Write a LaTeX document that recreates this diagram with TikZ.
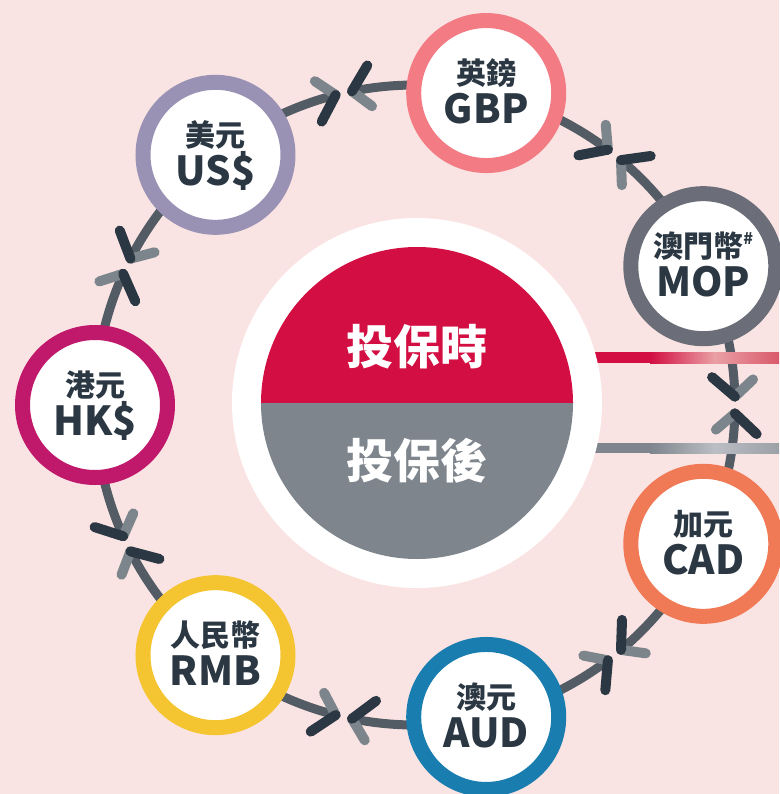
\documentclass[tikz,border=0pt]{standalone}
\usepackage{fontspec}
\newfontfamily\cjk{Noto Sans CJK TC}
\usetikzlibrary{calc}
\definecolor{bg}{HTML}{FAE4E3}
\definecolor{connc}{HTML}{535C65}
\definecolor{chdark}{HTML}{2B3743}
\definecolor{chlight}{HTML}{7C858B}
\definecolor{txt}{HTML}{2B3742}
\definecolor{redc}{HTML}{D20E42}
\definecolor{redl}{HTML}{EAA0A5}
\definecolor{redr}{HTML}{D95A6B}
\definecolor{grayc}{HTML}{7E858C}
\definecolor{grayl}{HTML}{BBBEC4}
\definecolor{grayr}{HTML}{9CA1A7}
\definecolor{usdc}{HTML}{9A92B4}
\definecolor{gbpc}{HTML}{F27B84}
\definecolor{mopc}{HTML}{6B6E78}
\definecolor{cadc}{HTML}{F07A55}
\definecolor{audc}{HTML}{1A7DB0}
\definecolor{rmbc}{HTML}{F5C431}
\definecolor{hkdc}{HTML}{C0186A}
\newcommand\mopzh{澳門幣\raisebox{13pt}{\fontsize{16}{16}\selectfont\#}}
\pgfdeclarelayer{bgl}
\pgfdeclarelayer{conl}
\pgfdeclarelayer{linel}
\pgfsetlayers{bgl,conl,linel,main}
\tikzset{
  conn/.style={draw=connc, line width=9pt},
  chl/.style={draw=chlight, line width=10pt, line cap=round},
  chd/.style={draw=chdark, line width=10pt, line cap=round},
  cur/.style={circle, draw=#1, line width=15pt, fill=white, minimum size=145pt, inner sep=0pt},
  cn/.style={font=\cjk\bfseries\fontsize{30}{30}\selectfont, text=txt, anchor=base, inner sep=0pt},
  en/.style={font=\cjk\bfseries\fontsize{40}{40}\selectfont, text=txt, anchor=base, inner sep=0pt},
  big/.style={font=\cjk\bfseries\fontsize{47}{47}\selectfont, text=white, anchor=base, inner sep=0pt},
}
\begin{document}
\begin{tikzpicture}[x=1pt,y=-1pt]
\begin{pgfonlayer}{bgl}
\fill[bg] (0,0) rectangle (779,794);
\end{pgfonlayer}
\useasboundingbox (0,0) rectangle (779,794);
\coordinate (O) at (415,405);
% lines to the right
\begin{pgfonlayer}{linel}
\fill[redc] (560,352) rectangle (651,363);
\shade[left color=redc, right color=redl] (650,352) rectangle (715,363);
\shade[left color=redl, right color=redr] (714,352) rectangle (779,363);
\fill[grayc] (560,443) rectangle (651,453);
\shade[left color=grayc, right color=grayl] (650,443) rectangle (715,453);
\shade[left color=grayl, right color=grayr] (714,443) rectangle (779,453);
\end{pgfonlayer}
% centre circle
\fill[white] (417,403) circle[radius=185];
\fill[redc] (261,403) arc[start angle=180, end angle=360, radius=156] -- cycle;
\fill[grayc] (261,403) arc[start angle=180, end angle=0, radius=156] -- cycle;
\node[big] (before) at (417,364) {投保時};
\node[big] (after) at (417,478) {投保後};
% currency circles
\foreach \n/\ang/\col/\zh/\en in {hkd/180/hkdc/港元/HK\$, usd/-128.5714/usdc/美元/US\$, gbp/-77.1429/gbpc/英鎊/GBP, mop/-25.7143/mopc/\mopzh/MOP, cad/25.7143/cadc/加元/CAD, aud/77.1429/audc/澳元/AUD, rmb/128.5714/rmbc/人民幣/RMB}{
  \node[cur=\col] (\n) at ($(O)+(\ang:320)$) {};
  \node[cn] (\n zh) at ($(\n.center)+(0,-8.6)$) {\zh};
  \node[en] (\n en) at ($(\n.center)+(0,30.2)$) {\en};
}
% connectors with chevrons
\foreach \a/\b/\p in {hkd/usd/-180, usd/gbp/-128.5714, gbp/mop/-77.1429, mop/cad/-25.7143, cad/aud/25.7143, aud/rmb/77.1429, rmb/hkd/128.5714}{
  \pgfmathsetmacro\ma{\p+25.7143-1.5}
  \pgfmathsetmacro\mb{\p+25.7143+1.5}
  \pgfmathsetmacro\q{\p+51.4286}
  \coordinate (ta\a) at ($(O)+(\ma:320)$);
  \coordinate (tb\a) at ($(O)+(\mb:320)$);
  \begin{pgfonlayer}{conl}
  \draw[conn] (\a.center) arc[start angle=\p, end angle=\ma, radius=320];
  \draw[conn] (\b.center) arc[start angle=\q, end angle=\mb, radius=320];
  \end{pgfonlayer}
  \draw[chl] (ta\a) -- ++(\ma-42:25);
  \draw[chd] (ta\a) -- ++(\ma-138:30);
  \draw[chl] (tb\a) -- ++(\mb+138:25);
  \draw[chd] (tb\a) -- ++(\mb+42:30);
}
\end{tikzpicture}
\end{document}
